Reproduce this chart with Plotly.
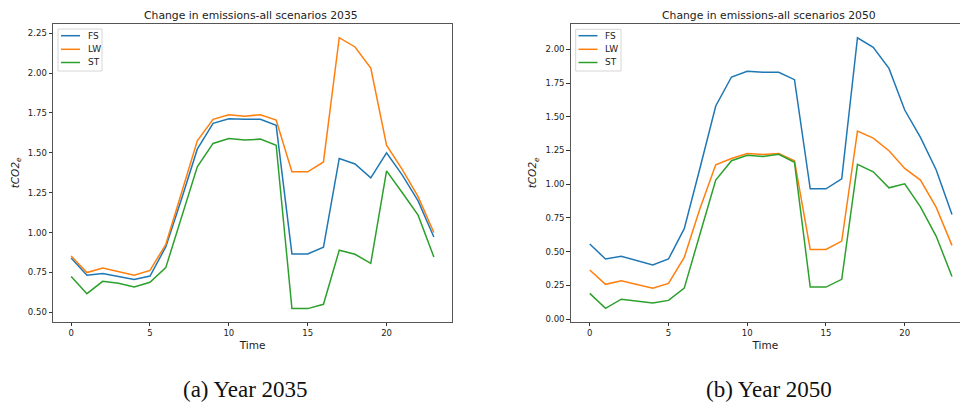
import plotly.graph_objects as go

hours = list(range(24))

fs_2035 = [0.84, 0.732, 0.744, 0.725, 0.705, 0.727, 0.91, 1.21, 1.523, 1.685, 1.714, 1.71, 1.71, 1.672,
           0.866, 0.866, 0.908, 1.465, 1.43, 1.343, 1.50, 1.36, 1.199, 0.972]
lw_2035 = [0.853, 0.749, 0.778, 0.757, 0.732, 0.763, 0.925, 1.25, 1.575, 1.71, 1.739, 1.73, 1.739, 1.705,
           1.381, 1.381, 1.443, 2.222, 2.164, 2.032, 1.548, 1.395, 1.225, 1.0]
st_2035 = [0.724, 0.617, 0.694, 0.682, 0.659, 0.688, 0.78, 1.10, 1.412, 1.559, 1.59, 1.58, 1.586, 1.548,
           0.523, 0.523, 0.55, 0.889, 0.864, 0.807, 1.387, 1.25, 1.109, 0.847]

fs_2050 = [0.556, 0.445, 0.465, 0.435, 0.40, 0.445, 0.67, 1.12, 1.58, 1.795, 1.837, 1.83, 1.83, 1.775,
           0.966, 0.966, 1.04, 2.086, 2.015, 1.859, 1.55, 1.347, 1.105, 0.776]
lw_2050 = [0.363, 0.257, 0.283, 0.256, 0.229, 0.264, 0.457, 0.82, 1.144, 1.19, 1.228, 1.22, 1.228, 1.174,
           0.516, 0.516, 0.578, 1.394, 1.342, 1.248, 1.117, 1.03, 0.828, 0.546]
st_2050 = [0.19, 0.079, 0.147, 0.133, 0.118, 0.138, 0.229, 0.63, 1.03, 1.174, 1.214, 1.206, 1.221, 1.162,
           0.237, 0.237, 0.294, 1.147, 1.092, 0.973, 1.003, 0.832, 0.613, 0.316]

series_names = ["FS", "LW", "ST"]
colors = ["#1f77b4", "#ff7f0e", "#2ca02c"]
titles = ["Change in emissions-all scenarios 2035", "Change in emissions-all scenarios 2050"]
captions = ["(a) Year 2035", "(b) Year 2050"]
x_ticks = [0, 5, 10, 15, 20]
y_ticks_2035 = [0.50, 0.75, 1.00, 1.25, 1.50, 1.75, 2.00, 2.25]
y_ticks_2050 = [0.00, 0.25, 0.50, 0.75, 1.00, 1.25, 1.50, 1.75, 2.00]

W, H = 960, 407


def px(x):
    return x / W


def py(y):
    return (H - y) / H


fig = go.Figure()

for name, col, ys in zip(series_names, colors, [fs_2035, lw_2035, st_2035]):
    fig.add_trace(go.Scatter(x=hours, y=ys, mode="lines", name=name, showlegend=False,
                             line=dict(color=col, width=1.5), xaxis="x", yaxis="y"))
for name, col, ys in zip(series_names, colors, [fs_2050, lw_2050, st_2050]):
    fig.add_trace(go.Scatter(x=hours, y=ys, mode="lines", name=name, showlegend=False,
                             line=dict(color=col, width=1.5), xaxis="x2", yaxis="y2"))

font = "DejaVu Sans"
tickfont = dict(family=font, size=8.5, color="#222")
axis_common = dict(showline=True, linecolor="#555", linewidth=1, ticks="outside", ticklen=3.5,
                   tickcolor="#333", tickwidth=1, showgrid=False, zeroline=False, tickfont=tickfont,
                   automargin=False)
ydom = [py(321.7), py(24)]
ytitle = dict(text="<i>tCO2</i><sub><i>e</i></sub>", font=dict(family=font, size=10.5), standoff=6)
xtitle = dict(text="Time", font=dict(family=font, size=10.5), standoff=4)

fig.update_layout(
    width=W, height=H, margin=dict(l=0, r=0, t=0, b=0, autoexpand=False),
    paper_bgcolor="white", plot_bgcolor="white",
    font=dict(family=font, color="#222"),
    showlegend=False,
    xaxis=dict(domain=[px(53), px(452)], range=[-1.15, 24.15], tickvals=x_ticks,
               mirror=True, anchor="y", title=xtitle, **axis_common),
    yaxis=dict(domain=ydom, range=[0.441, 2.308], tickvals=y_ticks_2035, tickformat=".2f",
               mirror=True, anchor="x", title=ytitle, **axis_common),
    xaxis2=dict(domain=[px(570.7), 1.0], range=[-1.21, 23.51], tickvals=x_ticks,
                mirror=True, anchor="y2", title=xtitle, **axis_common),
    yaxis2=dict(domain=ydom, range=[-0.02, 2.188], tickvals=y_ticks_2050, tickformat=".2f",
                mirror=False, anchor="x2", title=ytitle, **axis_common),
)

# legends (matplotlib-style boxes)
legend_boxes = [(58, 29, 102, 71), (575.7, 29.3, 621, 71)]
legend_line_x = [(61, 80), (578.5, 597.5)]
legend_text_x = [86, 603]
legend_rows = [35.7, 49.3, 62.5]
for (x0, y0, x1, y1), (lx0, lx1), tx in zip(legend_boxes, legend_line_x, legend_text_x):
    fig.add_shape(type="rect", xref="paper", yref="paper", x0=px(x0), x1=px(x1), y0=py(y1), y1=py(y0),
                  line=dict(color="#d6d6d6", width=1), fillcolor="rgba(255,255,255,0.85)", layer="above")
    for name, col, ry in zip(series_names, colors, legend_rows):
        fig.add_shape(type="line", xref="paper", yref="paper", x0=px(lx0), x1=px(lx1), y0=py(ry), y1=py(ry),
                      line=dict(color=col, width=1.5), layer="above")
        fig.add_annotation(text=name, x=px(tx), y=py(ry), xref="paper", yref="paper", showarrow=False,
                           xanchor="left", yanchor="middle", font=dict(family=font, size=9, color="#222"))

title_x = [250.5, 769]
for tx, t in zip(title_x, titles):
    fig.add_annotation(text=t, x=px(tx), y=py(15.5), xref="paper", yref="paper",
                       showarrow=False, xanchor="center", yanchor="middle",
                       font=dict(family=font, size=10.8, color="#222"))

cap_x = [246, 769]
for cx, c in zip(cap_x, captions):
    fig.add_annotation(text=c, x=px(cx), y=py(389.5), xref="paper", yref="paper",
                       showarrow=False, xanchor="center", yanchor="middle",
                       font=dict(family="Liberation Serif", size=23, color="#111"))

fig.write_html("out.html",
               config={"displayModeBar": False},
               post_script="document.body.style.margin='0';document.body.style.padding='0';"
                           "document.body.style.overflow='hidden';")
